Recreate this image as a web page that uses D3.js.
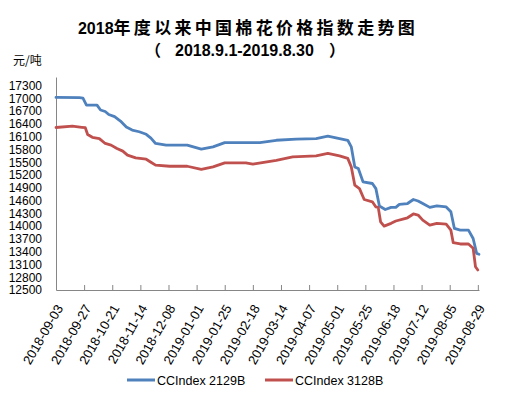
<!DOCTYPE html>
<html><head><meta charset="utf-8">
<script src="https://cdn.jsdelivr.net/npm/d3@7/dist/d3.min.js"></script>
<style>body{margin:0;background:#fff}svg{display:block}</style>
</head><body>
<svg id="c" width="507" height="399"></svg>
<script>
const titleText = "2018年度以来中国棉花价格指数走势图";
const subtitleText = "（2018.9.1-2019.8.30）";
const unitText = "元/吨";
const seriesNames = ["CCIndex 2129B", "CCIndex 3128B"];
const seriesColors = ["#4F81BD", "#C0504D"];
const xTickLabels = ["2018-09-03","2018-09-27","2018-10-21","2018-11-14","2018-12-08","2019-01-01","2019-01-25","2019-02-18","2019-03-14","2019-04-07","2019-05-01","2019-05-25","2019-06-18","2019-07-12","2019-08-05","2019-08-29"];
const yTicks = [12500,12800,13100,13400,13700,14000,14300,14600,14900,15200,15500,15800,16100,16400,16700,17000,17300];

const dates2129 = ["2018-09-03","2018-09-23","2018-09-26","2018-09-29","2018-10-08","2018-10-11","2018-10-15","2018-10-18","2018-10-23","2018-10-28","2018-11-02","2018-11-07","2018-11-13","2018-11-19","2018-11-23","2018-11-27","2018-12-06","2018-12-24","2019-01-05","2019-01-15","2019-01-25","2019-02-24","2019-03-10","2019-03-27","2019-04-13","2019-04-23","2019-05-03","2019-05-10","2019-05-13","2019-05-16","2019-05-19","2019-05-23","2019-05-31","2019-06-03","2019-06-06","2019-06-11","2019-06-16","2019-06-20","2019-06-23","2019-06-30","2019-07-05","2019-07-09","2019-07-13","2019-07-19","2019-07-25","2019-08-02","2019-08-06","2019-08-09","2019-08-14","2019-08-21","2019-08-25","2019-08-28","2019-08-30"];
const values2129 = [17020,17015,17005,16840,16840,16725,16690,16620,16570,16465,16325,16255,16215,16155,16065,15940,15900,15900,15805,15860,15960,15960,16015,16040,16055,16110,16055,16015,15860,15390,15350,15040,15000,14880,14470,14390,14440,14440,14510,14530,14625,14590,14530,14440,14475,14450,14335,13945,13905,13905,13710,13360,13340];

const dates3128 = ["2018-09-03","2018-09-17","2018-09-25","2018-09-28","2018-09-30","2018-10-04","2018-10-10","2018-10-15","2018-10-20","2018-10-25","2018-10-30","2018-11-03","2018-11-10","2018-11-19","2018-11-23","2018-11-27","2018-12-09","2018-12-24","2019-01-05","2019-01-15","2019-01-25","2019-02-12","2019-02-18","2019-03-10","2019-03-24","2019-04-13","2019-04-23","2019-05-03","2019-05-10","2019-05-13","2019-05-16","2019-05-20","2019-05-24","2019-05-31","2019-06-03","2019-06-05","2019-06-07","2019-06-10","2019-06-16","2019-06-20","2019-06-26","2019-06-30","2019-07-05","2019-07-09","2019-07-13","2019-07-19","2019-07-25","2019-08-02","2019-08-06","2019-08-08","2019-08-14","2019-08-21","2019-08-25","2019-08-27","2019-08-29"];
const values3128 = [16315,16345,16320,16310,16150,16085,16055,15940,15900,15820,15760,15665,15600,15570,15500,15430,15405,15405,15330,15390,15485,15485,15455,15545,15625,15650,15705,15650,15590,15390,14960,14880,14625,14570,14450,14440,14100,14000,14065,14120,14165,14195,14285,14260,14140,14025,14065,14045,13905,13610,13580,13580,13480,13045,12970];

const svg = d3.select("#c");
const parse = d3.timeParse("%Y-%m-%d");
const x = d3.scaleTime().domain([parse("2018-09-03"), parse("2019-08-30")]).range([56, 479]);
const y = d3.scaleLinear().domain([12500, 17500]).range([290, 77]);

const latin = "Liberation Sans, Arial, sans-serif";
const cjk = "'Noto Sans CJK SC', sans-serif";

// title
const t = svg.append("text").attr("x", 248).attr("y", 34).attr("text-anchor","middle")
  .attr("font-weight","bold").attr("fill","#000");
t.append("tspan").attr("font-family",latin).attr("font-size","16px").text(titleText.slice(0,4));
t.append("tspan").attr("font-family",cjk).attr("font-size","17px").attr("letter-spacing","3.3px").text(titleText.slice(4));

// subtitle
const st = svg.append("text").attr("y", 56).attr("font-weight","bold").attr("fill","#000").attr("font-size","16px");
st.append("tspan").attr("x", 145).attr("font-family",cjk).text(subtitleText.slice(0,1));
st.append("tspan").attr("x", 175).attr("font-family",latin).text(subtitleText.slice(1,-1));
st.append("tspan").attr("x", 329).attr("font-family",cjk).text(subtitleText.slice(-1));

svg.append("text").attr("x", 13).attr("y", 65).attr("font-size","12px")
  .attr("font-family",cjk).text(unitText);

// y axis
const yAxis = d3.axisLeft(y).tickValues(yTicks).tickSize(0).tickPadding(14).tickFormat(d3.format("d"));
const gy = svg.append("g").attr("transform","translate(56,0)").call(yAxis);
gy.select(".domain").attr("stroke","#868686");
gy.selectAll("text").attr("font-family",latin).attr("font-size","12px").attr("fill","#000");

// x axis
const tickDates = xTickLabels.map(parse);
const xAxis = d3.axisBottom(x).tickValues(tickDates).tickSizeInner(-5).tickSizeOuter(0).tickFormat(d3.timeFormat("%Y-%m-%d"));
const gx = svg.append("g").attr("transform","translate(0,290)").call(xAxis);
gx.select(".domain").attr("stroke","#868686");
gx.selectAll(".tick line").attr("stroke","#868686");
gx.selectAll("text").attr("font-family",latin).attr("font-size","13px").attr("fill","#000")
  .attr("text-anchor","end").attr("dy",null).attr("y",0)
  .attr("transform","translate(7,18) rotate(-60)");

// lines
const series = [
  dates2129.map((d,i)=>({date:parse(d), v:values2129[i]})),
  dates3128.map((d,i)=>({date:parse(d), v:values3128[i]}))
];
const line = d3.line().x(d=>x(d.date)).y(d=>y(d.v));
series.forEach((s,i)=>{
  svg.append("path").datum(s).attr("d",line).attr("fill","none")
    .attr("stroke",seriesColors[i]).attr("stroke-width",2.8).attr("stroke-linejoin","round").attr("stroke-linecap","round");
});

// legend
const legX = [127, 265];
seriesNames.forEach((n,i)=>{
  svg.append("line").attr("x1",legX[i]).attr("x2",legX[i]+28).attr("y1",380).attr("y2",380)
    .attr("stroke",seriesColors[i]).attr("stroke-width",3);
  svg.append("text").attr("x",legX[i]+30).attr("y",384.5).attr("font-size","12.5px")
    .attr("font-family",latin).attr("fill","#000").text(n);
});
</script>
</body></html>
